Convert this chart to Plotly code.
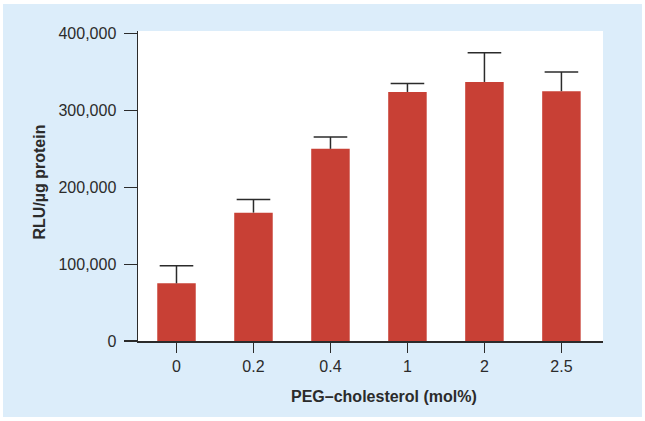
import plotly.graph_objects as go

categories = ["0", "0.2", "0.4", "1", "2", "2.5"]
values = [75000, 167000, 250000, 324000, 337000, 325000]
errors_up = [23000, 17000, 15500, 11000, 38000, 25000]
y_ticks = [0, 100000, 200000, 300000, 400000]
y_tick_labels = ["0", "100,000", "200,000", "300,000", "400,000"]

BLUE = "#dcedfa"
RED = "#c84035"
INK = "#2b2b2b"
FONT = "Liberation Sans, Arial, sans-serif"

# plot-area geometry in pixels (for layout helpers only)
L, R, T, B = 138, 42, 31, 80
W, H = 645, 421
pw, ph = W - L - R, H - T - B

def px_x(px):
    return (px - L) / pw

def px_y(py):
    return (H - B - py) / ph

cap_y = [v + e for v, e in zip(values, errors_up)]

fig = go.Figure()
fig.add_trace(go.Bar(
    x=categories,
    y=values,
    width=0.5,
    marker=dict(color=RED, line=dict(width=0)),
    showlegend=False,
    hoverinfo="skip",
))
# error bars: upward whisker from bar top to cap (cap drawn as a marker)
fig.add_trace(go.Scatter(
    x=categories,
    y=cap_y,
    mode="markers",
    marker=dict(symbol="line-ew-open", size=24, color=INK,
                line=dict(color=INK, width=1.5)),
    error_y=dict(type="data", symmetric=False, array=[0] * len(values),
                 arrayminus=errors_up, color=INK, thickness=1.5, width=0),
    showlegend=False,
    hoverinfo="skip",
))

shapes = []
# white outer frame around the light-blue panel
for (x0, x1, y0, y1) in [
    (0, 3, 0, H), (642, W, 0, H), (0, W, 0, 4), (0, W, 417, H)
]:
    shapes.append(dict(type="rect", xref="paper", yref="paper",
                       x0=px_x(x0), x1=px_x(x1), y0=px_y(y1), y1=px_y(y0),
                       fillcolor="white", line=dict(width=0), layer="above"))

annotations = [
    dict(text="<b>PEG–cholesterol (mol%)</b>", xref="paper", yref="paper",
         x=px_x(384), y=px_y(396), showarrow=False,
         font=dict(size=16, color=INK, family=FONT),
         xanchor="center", yanchor="middle"),
    dict(text="<b>RLU/µg protein</b>", xref="paper", yref="paper",
         x=px_x(38.5), y=px_y(182), showarrow=False, textangle=-90,
         font=dict(size=16, color=INK, family=FONT),
         xanchor="center", yanchor="middle"),
]

fig.update_layout(
    width=W, height=H,
    margin=dict(l=L, r=R, t=T, b=B, pad=0),
    paper_bgcolor=BLUE,
    plot_bgcolor="white",
    font=dict(family=FONT, size=16, color=INK),
    shapes=shapes,
    annotations=annotations,
    bargap=0.5,
)
fig.update_xaxes(
    type="category", categoryorder="array", categoryarray=categories,
    range=[-0.5, 5.54], showgrid=False, zeroline=False,
    showline=True, linecolor=INK, linewidth=1.5,
    ticks="outside", ticklen=10, tickwidth=1.2, tickcolor=INK,
    tickfont=dict(size=16, color=INK, family=FONT),
    ticklabelstandoff=0,
)
fig.update_yaxes(
    range=[0, 403300], showgrid=False, zeroline=False,
    showline=True, linecolor=INK, linewidth=1.5,
    ticks="outside", ticklen=13, tickwidth=1.2, tickcolor=INK,
    tickvals=y_ticks, ticktext=y_tick_labels,
    tickfont=dict(size=16, color=INK, family=FONT),
    ticklabelstandoff=4,
)

fig.write_html("out.html",
               config={"displayModeBar": False, "staticPlot": True},
               post_script="document.body.style.margin='0';document.body.style.padding='0';")
